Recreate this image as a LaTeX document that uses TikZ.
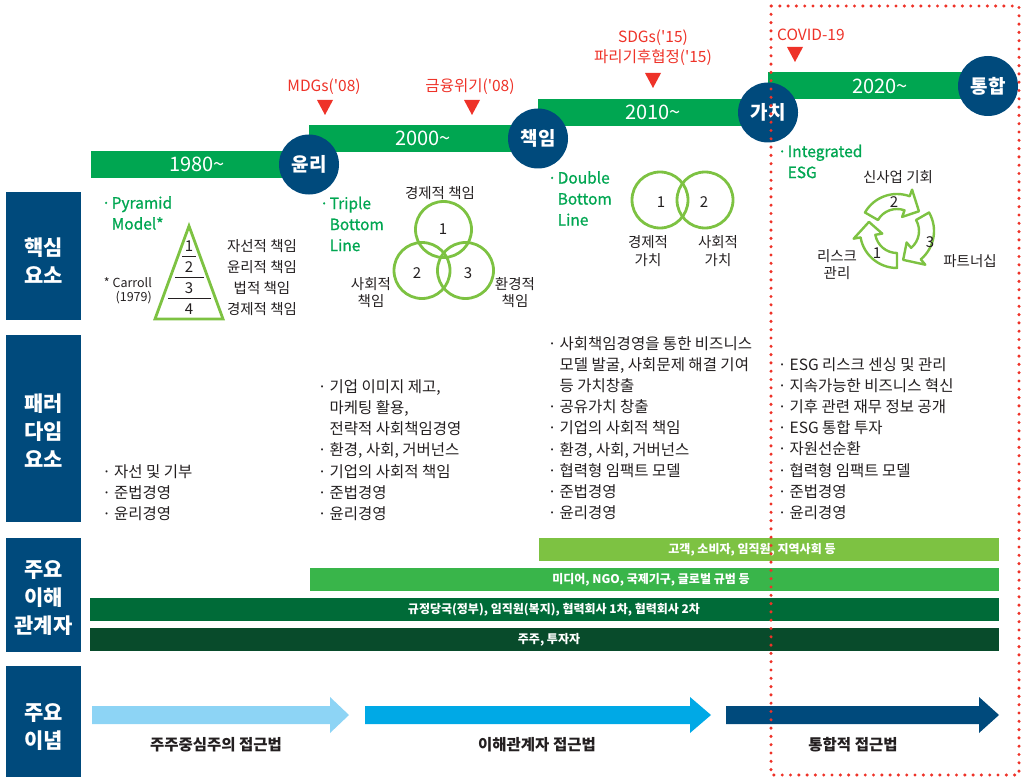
\documentclass[tikz,border=0pt]{standalone}
\usepackage{fontspec}
\setmainfont{Noto Sans CJK KR}
\newfontfamily\medfont{Noto Sans CJK KR}[FakeBold=0.9]
\definecolor{dblue}{RGB}{0,74,124}
\definecolor{tgreen}{RGB}{0,166,81}
\definecolor{lgreen}{RGB}{125,194,66}
\definecolor{barA}{RGB}{125,194,66}
\definecolor{barB}{RGB}{57,181,74}
\definecolor{barC}{RGB}{0,107,56}
\definecolor{barD}{RGB}{8,75,43}
\definecolor{arrA}{RGB}{141,212,245}
\definecolor{arrB}{RGB}{0,169,230}
\definecolor{rred}{RGB}{238,50,40}
\definecolor{txt}{RGB}{35,31,32}
\newcommand\bul{\makebox[6pt][c]{·}\hspace{4.5pt}}
\newcommand\ind{\hspace*{10.5pt}}
\newcommand\gbul{\makebox[6pt][c]{·}\hspace{2.5pt}}
\newcommand\gind{\hspace*{8.5pt}}
\newcommand\q{\textquotesingle}
\begin{document}
\begin{tikzpicture}[x=1pt,y=-1pt,
  every node/.style={inner sep=0pt},
  hdrtxt/.style={text=white, font=\fontsize{21}{28}\selectfont\bfseries, align=center},
  yeartxt/.style={text=white, font=\fontsize{20}{22}\selectfont},
  milestone/.style={circle, fill=dblue, minimum size=60pt, text=white, font=\fontsize{19}{20}\selectfont\bfseries},
  evtxt/.style={text=rred, font=\fontsize{15.5}{20}\selectfont},
  gtitle/.style={text=tgreen, font=\medfont\fontsize{15.5}{21}\selectfont, align=left, anchor=west},
  body/.style={text=txt, font=\fontsize{15.5}{21.2}\selectfont, align=left, anchor=west},
  lab/.style={text=txt, font=\fontsize{14.5}{17}\selectfont, align=center},
  num/.style={text=txt, font=\fontsize{15}{17}\selectfont},
  lshape/.style={draw=lgreen, line width=2.8pt},
  sbtxt/.style={text=white, font=\fontsize{12}{14}\selectfont\bfseries},
  arrtxt/.style={text=txt, font=\fontsize{15.5}{16}\selectfont\bfseries},
  cyc/.style={draw=lgreen, fill=white, line width=2.4pt, line join=round}
]
\useasboundingbox (0,0) rectangle (1024,778);

% ---- row headers
\fill[dblue] (6,192) rectangle (81,320);
\fill[dblue] (6,335) rectangle (81,522);
\fill[dblue] (6,538) rectangle (81,652);
\fill[dblue] (6,666) rectangle (81,777);
\node[hdrtxt] (h1) at (43.5,261) {핵심\\요소};
\node[hdrtxt] (h2) at (43.5,431) {패러\\다임\\요소};
\node[hdrtxt] (h3) at (43.5,598) {주요\\이해\\관계자};
\node[hdrtxt] (h4) at (43.5,727) {주요\\이념};

% ---- timeline
\fill[tgreen] (91,151) rectangle (309,178);
\fill[tgreen] (309,125) rectangle (538,152);
\fill[tgreen] (538,99) rectangle (768,126);
\fill[tgreen] (768,72) rectangle (988,99);
\node[yeartxt] (y1) at (197,164.5) {1980\textasciitilde};
\node[yeartxt] (y2) at (423,138.5) {2000\textasciitilde};
\node[yeartxt] (y3) at (653,112.5) {2010\textasciitilde};
\node[yeartxt] (y4) at (880,86) {2020\textasciitilde};
\node[milestone] (m1) at (309,164.5) {윤리};
\node[milestone] (m2) at (538,138.5) {책임};
\node[milestone] (m3) at (768,112.5) {가치};
\node[milestone] (m4) at (988,86) {통합};

% ---- events
\node[evtxt] (e1) at (324,87) {MDGs(\q08)};
\node[evtxt] (e2) at (470,87) {금융위기(\q08)};
\node[evtxt, align=center] (e3) at (653,48) {SDGs(\q15)\\파리기후협정(\q15)};
\node[evtxt, anchor=west] (e4) at (777,35) {COVID-19};
\fill[rred] (317,100) -- (333,100) -- (325,115) -- cycle;
\fill[rred] (464,100) -- (480,100) -- (472,115) -- cycle;
\fill[rred] (645,73) -- (661,73) -- (653,88) -- cycle;
\fill[rred] (787,47) -- (803,47) -- (795,62) -- cycle;

% ---- core elements: pyramid
\node[gtitle] (t1) at (103,213) {\gbul Pyramid\\\gind Model*};
\draw[lshape, line join=miter] (189,226) -- (223,319) -- (155,319) -- cycle;
\draw[txt, line width=1pt] (182,256) -- (196,256);
\draw[txt, line width=1pt] (175,277) -- (204,277);
\draw[txt, line width=1pt] (168,298) -- (211,298);
\node[num] (pn1) at (189,246) {1};
\node[num] (pn2) at (189,267) {2};
\node[num] (pn3) at (189,288) {3};
\node[num] (pn4) at (189,309) {4};
\node[lab, font=\fontsize{14.5}{21}\selectfont] (pl) at (262,278) {자선적 책임\\윤리적 책임\\법적 책임\\경제적 책임};
\node[lab, align=right, anchor=east, font=\fontsize{12.5}{14}\selectfont] (car) at (152,291) {* Carroll\\(1979)};

% ---- triple bottom line
\node[gtitle] (t2) at (321,224) {\gbul Triple\\\gind Bottom\\\gind Line};
\draw[lshape] (443.5,229.5) circle[radius=28];
\draw[lshape] (422,270.5) circle[radius=28];
\draw[lshape] (465.5,270.5) circle[radius=28];
\node[num] (vn1) at (443,229) {1};
\node[num] (vn2) at (417,273) {2};
\node[num] (vn3) at (468,273) {3};
\node[lab] (vl1) at (440,193) {경제적 책임};
\node[lab] (vl2) at (371,293) {사회적\\책임};
\node[lab] (vl3) at (515,293) {환경적\\책임};

% ---- double bottom line
\node[gtitle] (t3) at (549,198.5) {\gbul Double\\\gind Bottom\\\gind Line};
\draw[lshape] (660,200) circle[radius=28];
\draw[lshape] (705,200) circle[radius=28];
\node[num] (dn1) at (661,202) {1};
\node[num] (dn2) at (704,202) {2};
\node[lab, font=\fontsize{14.5}{18}\selectfont] (dl1) at (648,251) {경제적\\가치};
\node[lab, font=\fontsize{14.5}{18}\selectfont] (dl2) at (718,251) {사회적\\가치};

% ---- integrated ESG
\node[gtitle] (t4) at (779,161.5) {\gbul Integrated\\\gind ESG};
\node[lab] (il1) at (898,177) {신사업 기회};
\node[lab] (il2) at (837,264.5) {리스크\\관리};
\node[lab] (il3) at (970,261) {파트너십};
\begin{scope}[shift={(897,231)}]
  \foreach \t in {150,30,-90} {
    \draw[cyc] (\t:37pt) arc[start angle=\t, end angle=\t-80, radius=37pt]
      -- (\t-80:44pt) -- (\t-108:29.5pt) -- (\t-80:15pt) -- (\t-80:22pt)
      arc[start angle=\t-80, end angle=\t, radius=22pt] -- cycle;
  }
\end{scope}
\node[num] (cn2) at (894,202) {2};
\node[num] (cn3) at (930,242) {3};
\node[num] (cn1) at (877,253) {1};

% ---- paradigm row
\node[body] (p1) at (103.5,492.5) {\bul 자선 및 기부\\\bul 준법경영\\\bul 윤리경영};
\node[body] (p2) at (319,450) {\bul 기업 이미지 제고,\\\ind 마케팅 활용,\\\ind 전략적 사회책임경영\\\bul 환경, 사회, 거버넌스\\\bul 기업의 사회적 책임\\\bul 준법경영\\\bul 윤리경영};
\node[body] (p3) at (549,428) {\bul 사회책임경영을 통한 비즈니스\\\ind 모델 발굴, 사회문제 해결 기여\\\ind 등 가치창출\\\bul 공유가치 창출\\\bul 기업의 사회적 책임\\\bul 환경, 사회, 거버넌스\\\bul 협력형 임팩트 모델\\\bul 준법경영\\\bul 윤리경영};
\node[body] (p4) at (779,438.5) {\bul ESG 리스크 센싱 및 관리\\\bul 지속가능한 비즈니스 혁신\\\bul 기후 관련 재무 정보 공개\\\bul ESG 통합 투자\\\bul 자원선순환\\\bul 협력형 임팩트 모델\\\bul 준법경영\\\bul 윤리경영};

% ---- stakeholders
\fill[barA] (539,538) rectangle (999,561);
\fill[barB] (310,568) rectangle (999,591);
\fill[barC] (90,598) rectangle (999,621);
\fill[barD] (90,628) rectangle (999,651);
\node[sbtxt] (s1) at (752,549.5) {고객, 소비자, 임직원, 지역사회 등};
\node[sbtxt] (s2) at (651,579.5) {미디어, NGO, 국제기구, 글로벌 규범 등};
\node[sbtxt] (s3) at (554,609.5) {규정당국(정부), 임직원(복지), 협력회사 1차, 협력회사 2차};
\node[sbtxt] (s4) at (549,639.5) {주주, 투자자};

% ---- ideas arrows
\fill[arrA] (92,706) -- (330,706) -- (330,697) -- (349,715) -- (330,733) -- (330,724) -- (92,724) -- cycle;
\fill[arrB] (365,706) -- (690,706) -- (690,697) -- (711,715) -- (690,733) -- (690,724) -- (365,724) -- cycle;
\fill[dblue] (726,706) -- (979,706) -- (979,697) -- (999,715) -- (979,733) -- (979,724) -- (726,724) -- cycle;
\node[arrtxt] (a1) at (216,745) {주주중심주의 접근법};
\node[arrtxt] (a2) at (537,745) {이해관계자 접근법};
\node[arrtxt] (a3) at (853,745) {통합적 접근법};

% ---- dotted frame
\draw[rred, line width=3.4pt, line cap=round, dash pattern=on 0pt off 8.3pt] (771,6) rectangle (1019,775);
\end{tikzpicture}
\end{document}
